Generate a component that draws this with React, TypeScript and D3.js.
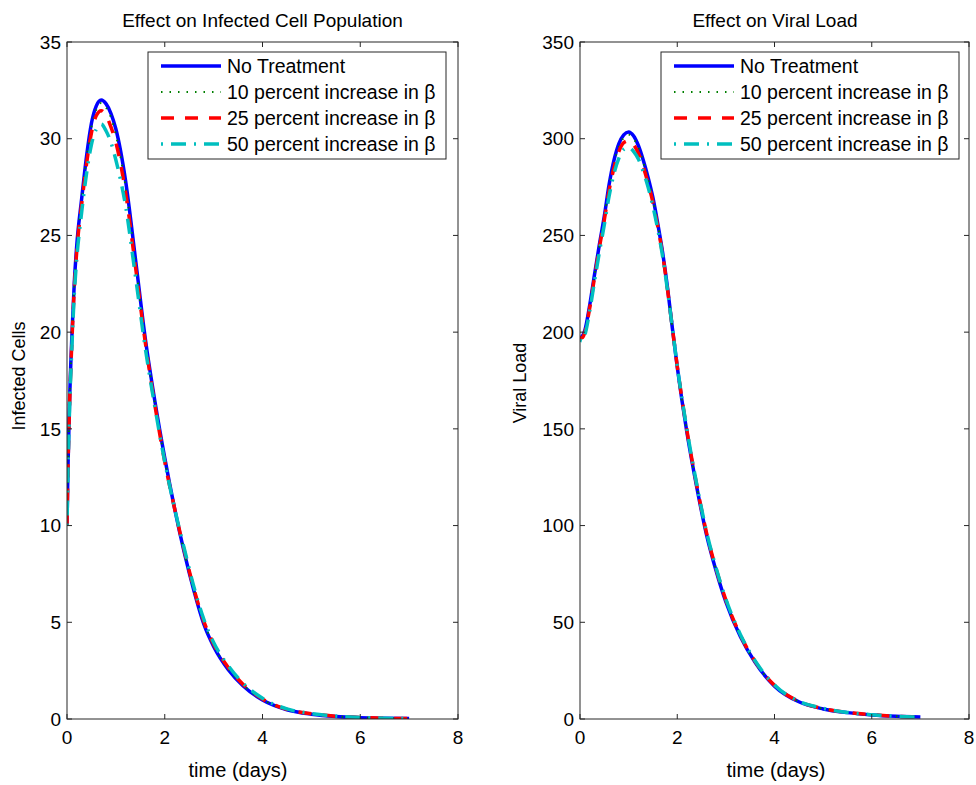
import React from "react";
import * as d3 from "d3";

// ---- Data ----
const timeLeft = [0, 0.02, 0.05, 0.1, 0.15, 0.2, 0.3, 0.4, 0.5, 0.6, 0.7, 0.8, 0.9, 1.0, 1.2, 1.4, 1.6, 1.8, 2.0, 2.2, 2.4, 2.6, 2.8, 3.0, 3.3, 3.6, 4.0, 4.5, 5.0, 5.5, 6.0, 6.5, 7.0];
const cellsNoTreatment = [10, 13, 16.2, 19.8, 22.6, 24.5, 26.9, 29.1, 30.8, 31.7, 32.0, 31.8, 31.3, 30.5, 27.8, 23.8, 19.7, 16.4, 13.5, 10.9, 8.6, 6.6, 4.9, 3.75, 2.55, 1.72, 0.98, 0.48, 0.25, 0.13, 0.07, 0.04, 0.02];
const cells10 = [10, 13, 16.1, 19.7, 22.5, 24.4, 26.8, 29.0, 30.6, 31.5, 31.85, 31.6, 31.1, 30.2, 27.5, 23.6, 19.6, 16.3, 13.4, 10.9, 8.6, 6.6, 5.0, 3.8, 2.6, 1.76, 1.0, 0.49, 0.26, 0.14, 0.08, 0.04, 0.02];
const cells25 = [10, 12.9, 16.0, 19.5, 22.3, 24.2, 26.6, 28.7, 30.3, 31.2, 31.45, 31.2, 30.6, 29.8, 27.2, 23.4, 19.5, 16.2, 13.3, 10.9, 8.7, 6.7, 5.05, 3.87, 2.66, 1.8, 1.03, 0.5, 0.27, 0.14, 0.08, 0.04, 0.02];
const cells50 = [10, 12.8, 15.8, 19.2, 22.0, 23.8, 26.2, 28.2, 29.7, 30.5, 30.75, 30.4, 29.8, 28.9, 26.5, 22.9, 19.2, 16.1, 13.3, 10.9, 8.8, 6.8, 5.15, 3.95, 2.75, 1.86, 1.07, 0.52, 0.28, 0.15, 0.08, 0.04, 0.02];

const timeRight = [0, 0.05, 0.1, 0.2, 0.3, 0.4, 0.5, 0.6, 0.7, 0.8, 0.9, 1.0, 1.1, 1.2, 1.3, 1.4, 1.5, 1.6, 1.7, 1.8, 1.9, 2.0, 2.2, 2.4, 2.6, 2.8, 3.0, 3.3, 3.6, 4.0, 4.5, 5.0, 5.5, 6.0, 6.5, 7.0];
const viralNoTreatment = [197, 198, 201, 214, 230, 245.5, 260, 276.5, 289, 297.5, 302, 303.5, 301.5, 296.5, 289, 280, 269.5, 256, 241, 223, 202, 182, 148, 120, 95.5, 76.5, 60.5, 42.5, 29.3, 17.0, 8.9, 5.2, 3.3, 2.1, 1.4, 1.0];
const viral10 = [197, 197.8, 200.6, 213.5, 229.5, 245, 259.5, 275.5, 287.5, 296, 300.5, 302, 300, 295.5, 288, 279, 268.5, 255.5, 240.5, 222.5, 202, 182, 148.5, 120.5, 96, 77, 61, 42.8, 29.5, 17.2, 9.0, 5.3, 3.3, 2.1, 1.4, 1.0];
const viral25 = [197, 197.2, 200, 212.5, 228.5, 244, 258, 273.5, 285, 293.5, 298, 299, 297, 292.5, 285.5, 277, 267, 254.5, 240, 222, 202, 182.5, 149, 121, 96.5, 77.5, 61.5, 43.2, 29.8, 17.4, 9.1, 5.4, 3.4, 2.2, 1.4, 1.0];
const viral50 = [196, 195.5, 198.5, 211, 226.5, 241.5, 255.5, 270.5, 282, 290, 294.5, 295.5, 293.5, 289.5, 283, 275, 265, 253, 239, 221.5, 202, 182.5, 149.5, 121.5, 97, 78, 62, 43.6, 30.1, 17.6, 9.2, 5.5, 3.4, 2.2, 1.4, 1.0];

const xTicks = [0, 2, 4, 6, 8];
const yTicksLeft = [0, 5, 10, 15, 20, 25, 30, 35];
const yTicksRight = [0, 50, 100, 150, 200, 250, 300, 350];

const legendLabels = ["No Treatment", "10 percent increase in \u03b2", "25 percent increase in \u03b2", "50 percent increase in \u03b2"];

// ---- Styles ----
const seriesStyles = [
  { color: "#0000ff", width: 3.5, dash: "" },
  { color: "#008000", width: 2, dash: "1.5,7" },
  { color: "#ff0000", width: 3.5, dash: "13,11" },
  { color: "#00bfbf", width: 3.5, dash: "2,8,15,8" },
];

const FONT = "'Liberation Sans', Arial, Helvetica, sans-serif";
const AXIS = "#262626";

type PanelProps = {
  id: string;
  left: number;
  right: number;
  top: number;
  bottom: number;
  time: number[];
  series: number[][];
  yMax: number;
  yTicks: number[];
  title: string;
  yLabel: string;
  yLabelX: number;
  titleCenterX: number;
  labelCenterX: number;
  yLabelCenterY: number;
};

function Panel(p: PanelProps) {
  const x = d3.scaleLinear().domain([0, 8]).range([p.left, p.right]);
  const y = d3.scaleLinear().domain([0, p.yMax]).range([p.bottom, p.top]);
  const line = d3
    .line<number>()
    .x((_, i) => x(p.time[i]))
    .y((d) => y(d))
    .curve(d3.curveMonotoneX);
  const tl = 5;
  const legL = p.left + 81;
  const legT = 52;
  const legW = 298;
  const legH = 107;
  return (
    <g>
      <defs>
        <clipPath id={p.id}>
          <rect x={p.left} y={p.top} width={p.right - p.left} height={p.bottom - p.top} />
        </clipPath>
      </defs>
      <text x={p.titleCenterX} y={27} textAnchor="middle" fontFamily={FONT} fontSize={19} fill="#000">
        {p.title}
      </text>
      <g clipPath={`url(#${p.id})`}>
        {p.series.map((s, k) => (
          <path
            key={k}
            d={line(s) || ""}
            fill="none"
            stroke={seriesStyles[k].color}
            strokeWidth={seriesStyles[k].width}
            strokeDasharray={seriesStyles[k].dash || undefined}
            strokeLinejoin="round"
          />
        ))}
      </g>
      <rect x={p.left} y={p.top} width={p.right - p.left} height={p.bottom - p.top} fill="none" stroke={AXIS} strokeWidth={1} />
      {xTicks.map((t) => (
        <g key={"x" + t}>
          <line x1={x(t)} x2={x(t)} y1={p.bottom} y2={p.bottom - tl} stroke={AXIS} />
          <line x1={x(t)} x2={x(t)} y1={p.top} y2={p.top + tl} stroke={AXIS} />
          <text x={x(t)} y={p.bottom + 25} textAnchor="middle" fontFamily={FONT} fontSize={19} fill="#000">
            {t}
          </text>
        </g>
      ))}
      {p.yTicks.map((t) => (
        <g key={"y" + t}>
          <line x1={p.left} x2={p.left + tl} y1={y(t)} y2={y(t)} stroke={AXIS} />
          <line x1={p.right} x2={p.right - tl} y1={y(t)} y2={y(t)} stroke={AXIS} />
          <text x={p.left - 6} y={y(t)} dy="0.35em" textAnchor="end" fontFamily={FONT} fontSize={19} fill="#000">
            {t}
          </text>
        </g>
      ))}
      <text x={p.labelCenterX} y={p.bottom + 58} textAnchor="middle" fontFamily={FONT} fontSize={20} fill="#000">
        time (days)
      </text>
      <text
        transform={`translate(${p.yLabelX},${p.yLabelCenterY}) rotate(-90)`}
        textAnchor="middle"
        fontFamily={FONT}
        fontSize={18}
        fill="#000"
      >
        {p.yLabel}
      </text>
      <g>
        <rect x={legL} y={legT} width={legW} height={legH} fill="#fff" stroke={AXIS} strokeWidth={1} />
        {legendLabels.map((lab, k) => {
          const ry = legT + 14 + k * 26;
          return (
            <g key={lab}>
              <line
                x1={legL + 13}
                x2={legL + 73}
                y1={ry}
                y2={ry}
                stroke={seriesStyles[k].color}
                strokeWidth={seriesStyles[k].width}
                strokeDasharray={seriesStyles[k].dash || undefined}
              />
              <text x={legL + 79} y={ry} dy="0.36em" fontFamily={FONT} fontSize={19.5} fill="#000">
                {lab}
              </text>
            </g>
          );
        })}
      </g>
    </g>
  );
}

export default function App() {
  return (
    <div style={{ position: "absolute", left: 0, top: 0 }}>
      <svg width={976} height={785} viewBox="0 0 976 785" style={{ display: "block", background: "#fff" }}>
        <rect x={0} y={0} width={976} height={785} fill="#fff" />
        <Panel
          id="clipL"
          left={67}
          right={458}
          top={42}
          bottom={719}
          time={timeLeft}
          series={[cellsNoTreatment, cells10, cells25, cells50]}
          yMax={35}
          yTicks={yTicksLeft}
          title="Effect on Infected Cell Population"
          yLabel="Infected Cells"
          yLabelX={25}
          titleCenterX={262.5}
          labelCenterX={238}
          yLabelCenterY={376}
        />
        <Panel
          id="clipR"
          left={580}
          right={969}
          top={42}
          bottom={719}
          time={timeRight}
          series={[viralNoTreatment, viral10, viral25, viral50]}
          yMax={350}
          yTicks={yTicksRight}
          title="Effect on Viral Load"
          yLabel="Viral Load"
          yLabelX={526}
          titleCenterX={775}
          labelCenterX={776}
          yLabelCenterY={383}
        />
      </svg>
    </div>
  );
}
